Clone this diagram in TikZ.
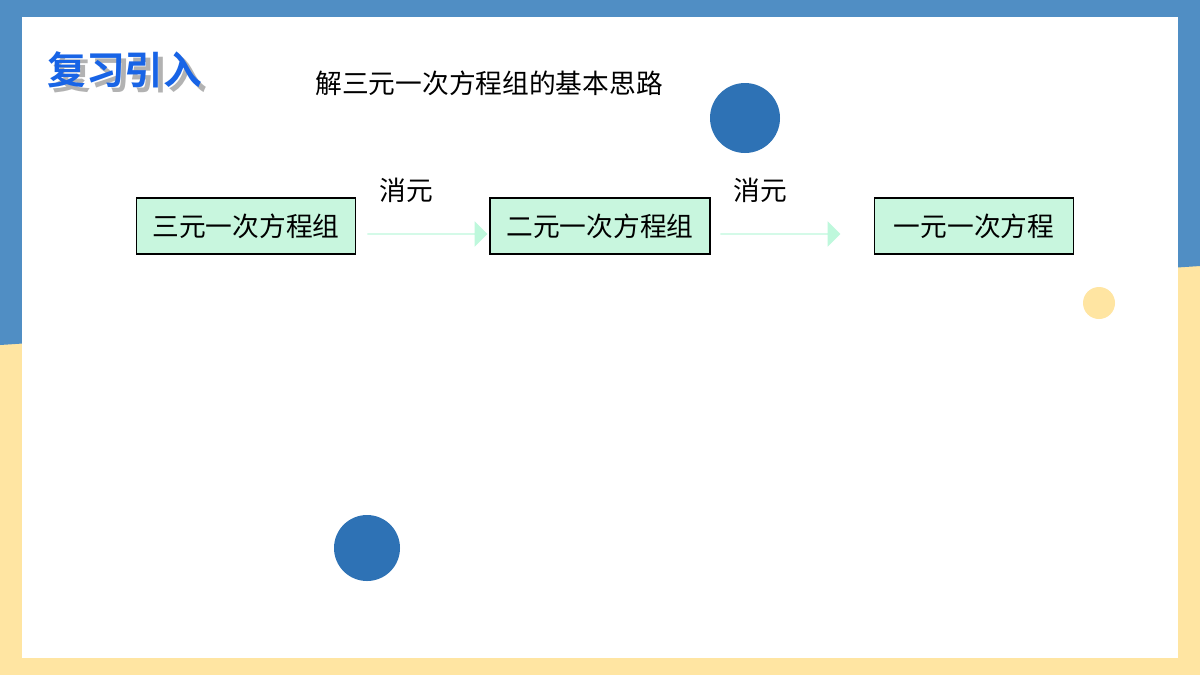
\documentclass[tikz,border=0pt]{standalone}
\usepackage{fontspec}
\setmainfont{Noto Sans CJK SC}
\newfontfamily\cjkbold[FakeBold=0]{Noto Sans CJK SC Bold}
\usetikzlibrary{shapes.arrows,positioning}
\definecolor{frameblue}{RGB}{80,142,196}
\definecolor{frameyellow}{RGB}{255,229,162}
\definecolor{dotblue}{RGB}{46,114,181}
\definecolor{boxgreen}{RGB}{200,246,222}
\definecolor{arrowgreen}{RGB}{190,248,220}
\definecolor{titleblue}{RGB}{24,100,230}
\tikzset{
  stagebox/.style={draw=black, fill=boxgreen, minimum height=0.56cm, inner sep=1pt, font=\fontsize{7.6pt}{8pt}\selectfont},
  elimarrow/.style={fill=arrowgreen, single arrow, single arrow head extend=0.12cm, minimum height=1.2cm, minimum width=0.24cm, inner sep=0pt, single arrow tip angle=90},
  steplabel/.style={font=\fontsize{7.6pt}{8pt}\selectfont}
}
\begin{document}
\begin{tikzpicture}[x=0.01cm, y=-0.01cm]
  \useasboundingbox (0,0) rectangle (1200,675);
  % frame
  \fill[frameyellow] (0,0) rectangle (1200,675);
  \fill[frameblue] (0,0) -- (1200,0) -- (1200,266) -- (0,345) -- cycle;
  \fill[white] (22,17) rectangle (1178,658);
  % dots
  \fill[dotblue] (745,118) circle (35);
  \fill[dotblue] (367,548) circle (33);
  \fill[frameyellow] (1099,303) circle (16);
  % headings
  \node[font=\cjkbold\fontsize{11pt}{12pt}\selectfont, text=gray!60, anchor=west] at (40,75) {复习引入};
  \node[font=\cjkbold\fontsize{11pt}{12pt}\selectfont, text=titleblue, anchor=west] (review) at (35,70) {复习引入};
  \node[steplabel, anchor=west] (topic) at (303,83) {解三元一次方程组的基本思路};
  % stages
  \node[stagebox, minimum width=2.19cm] (three) at (246,226) {三元一次方程组};
  \node[stagebox, minimum width=2.20cm] (two) at (600,226) {二元一次方程组};
  \node[stagebox, minimum width=1.99cm] (one) at (974,226) {一元一次方程};
  \node[elimarrow] (arrA) at (427,234) {};
  \node[elimarrow] (arrB) at (780,234) {};
  \node[steplabel] (elimA) at (406,190) {消元};
  \node[steplabel] (elimB) at (760,190) {消元};
\end{tikzpicture}
\end{document}
